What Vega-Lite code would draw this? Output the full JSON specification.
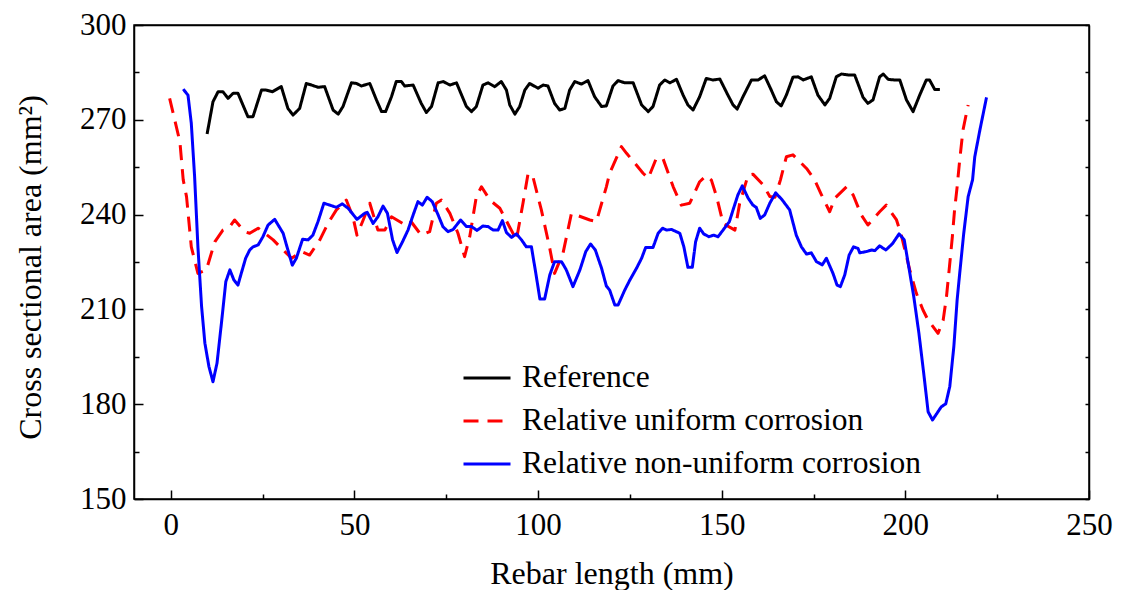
{
  "$schema": "https://vega.github.io/schema/vega-lite/v6.json",
  "width": 955,
  "height": 474,
  "autosize": {"type": "none"},
  "padding": {"left": 134, "top": 25, "right": 32, "bottom": 91},
  "config": {"view": {"stroke": "black", "strokeWidth": 1.5}, "font": "Liberation Serif"},
  "datasets": {
    "all": [
{"s":"A","x":9.9,"y":265.5},{"s":"A","x":11.5,"y":275.7},{"s":"A","x":12.9,"y":278.9},{"s":"A","x":14.2,"y":278.9},{"s":"A","x":15.6,"y":276.8},{"s":"A","x":17.0,"y":278.4},{"s":"A","x":18.3,"y":278.4},{"s":"A","x":21.0,"y":271},{"s":"A","x":22.4,"y":271},{"s":"A","x":24.7,"y":279.4},{"s":"A","x":26.0,"y":279.4},{"s":"A","x":27.7,"y":278.9},{"s":"A","x":30.1,"y":280.5},{"s":"A","x":31.9,"y":273.6},{"s":"A","x":33.3,"y":271.5},{"s":"A","x":35.1,"y":273.6},{"s":"A","x":36.9,"y":281.5},{"s":"A","x":38.3,"y":281},{"s":"A","x":40.1,"y":280.3},{"s":"A","x":41.9,"y":280.5},{"s":"A","x":44.2,"y":273.1},{"s":"A","x":45.6,"y":271.8},{"s":"A","x":46.9,"y":274.2},{"s":"A","x":49.2,"y":281.7},{"s":"A","x":50.6,"y":281.5},{"s":"A","x":51.9,"y":280.7},{"s":"A","x":54.2,"y":281.5},{"s":"A","x":56.0,"y":276.3},{"s":"A","x":57.4,"y":272.6},{"s":"A","x":58.5,"y":272.6},{"s":"A","x":60.1,"y":277.3},{"s":"A","x":61.4,"y":282.1},{"s":"A","x":62.8,"y":282.1},{"s":"A","x":63.7,"y":280.7},{"s":"A","x":66.0,"y":281},{"s":"A","x":68.2,"y":275.2},{"s":"A","x":69.6,"y":272.3},{"s":"A","x":71.0,"y":274.2},{"s":"A","x":72.8,"y":281.7},{"s":"A","x":74.2,"y":282.1},{"s":"A","x":76.0,"y":281},{"s":"A","x":77.8,"y":281.7},{"s":"A","x":80.5,"y":274.2},{"s":"A","x":81.9,"y":272.6},{"s":"A","x":83.2,"y":274.2},{"s":"A","x":85.0,"y":281},{"s":"A","x":86.4,"y":281.7},{"s":"A","x":88.2,"y":280.5},{"s":"A","x":90.0,"y":282.1},{"s":"A","x":91.4,"y":279.4},{"s":"A","x":92.3,"y":274.7},{"s":"A","x":93.7,"y":271.8},{"s":"A","x":95.0,"y":274.2},{"s":"A","x":96.4,"y":279.4},{"s":"A","x":97.7,"y":281.5},{"s":"A","x":100.0,"y":280},{"s":"A","x":101.4,"y":281},{"s":"A","x":102.7,"y":280.7},{"s":"A","x":104.5,"y":275.2},{"s":"A","x":105.9,"y":273.1},{"s":"A","x":107.3,"y":273.6},{"s":"A","x":108.6,"y":279.4},{"s":"A","x":110.0,"y":282.1},{"s":"A","x":111.8,"y":281.3},{"s":"A","x":113.6,"y":282.4},{"s":"A","x":115.4,"y":277.3},{"s":"A","x":117.3,"y":274.2},{"s":"A","x":118.6,"y":274.4},{"s":"A","x":120.4,"y":280.7},{"s":"A","x":121.8,"y":282.4},{"s":"A","x":123.6,"y":281.7},{"s":"A","x":125.9,"y":281.7},{"s":"A","x":128.2,"y":274.7},{"s":"A","x":130.0,"y":272.6},{"s":"A","x":131.3,"y":274.2},{"s":"A","x":133.1,"y":281},{"s":"A","x":134.5,"y":282.6},{"s":"A","x":135.9,"y":281.7},{"s":"A","x":137.7,"y":282.8},{"s":"A","x":139.5,"y":277.8},{"s":"A","x":140.8,"y":274.7},{"s":"A","x":142.2,"y":273.1},{"s":"A","x":144.0,"y":277.3},{"s":"A","x":145.8,"y":283.1},{"s":"A","x":147.6,"y":282.6},{"s":"A","x":149.5,"y":282.9},{"s":"A","x":151.7,"y":277.8},{"s":"A","x":153.1,"y":274.7},{"s":"A","x":154.2,"y":273.4},{"s":"A","x":155.8,"y":277.3},{"s":"A","x":158.1,"y":282.6},{"s":"A","x":159.9,"y":282.6},{"s":"A","x":161.7,"y":283.9},{"s":"A","x":163.5,"y":279.4},{"s":"A","x":164.9,"y":275.7},{"s":"A","x":166.2,"y":274.4},{"s":"A","x":167.6,"y":277.8},{"s":"A","x":169.4,"y":283.5},{"s":"A","x":170.8,"y":283.6},{"s":"A","x":172.2,"y":282.6},{"s":"A","x":174.4,"y":283.6},{"s":"A","x":176.2,"y":277.8},{"s":"A","x":178.1,"y":274.7},{"s":"A","x":179.4,"y":276.8},{"s":"A","x":181.2,"y":283.6},{"s":"A","x":182.6,"y":284.5},{"s":"A","x":184.4,"y":284.2},{"s":"A","x":186.2,"y":284.2},{"s":"A","x":188.5,"y":277.1},{"s":"A","x":189.8,"y":275.2},{"s":"A","x":191.2,"y":276.3},{"s":"A","x":193.0,"y":283.6},{"s":"A","x":194.0,"y":284.5},{"s":"A","x":195.3,"y":282.8},{"s":"A","x":197.1,"y":282.6},{"s":"A","x":198.5,"y":282.6},{"s":"A","x":200.3,"y":276.3},{"s":"A","x":202.1,"y":272.6},{"s":"A","x":203.9,"y":277.8},{"s":"A","x":205.7,"y":282.6},{"s":"A","x":206.6,"y":282.6},{"s":"A","x":208.0,"y":279.6},{"s":"A","x":209.4,"y":279.6},
{"s":"B","x":-0.3,"y":276.8},{"s":"B","x":2.5,"y":263},{"s":"B","x":3.4,"y":251},{"s":"B","x":4.3,"y":245.7},{"s":"B","x":5.6,"y":229.8},{"s":"B","x":7.4,"y":221.4},{"s":"B","x":9.7,"y":222.5},{"s":"B","x":12.0,"y":231.4},{"s":"B","x":14.2,"y":235.1},{"s":"B","x":16.1,"y":236.2},{"s":"B","x":17.4,"y":238.3},{"s":"B","x":20.1,"y":234.6},{"s":"B","x":21.5,"y":234.1},{"s":"B","x":23.8,"y":235.7},{"s":"B","x":27.9,"y":232},{"s":"B","x":30.6,"y":228.8},{"s":"B","x":32.9,"y":226.2},{"s":"B","x":35.6,"y":228.3},{"s":"B","x":37.8,"y":227.2},{"s":"B","x":40.6,"y":232},{"s":"B","x":42.8,"y":237.2},{"s":"B","x":45.1,"y":241.5},{"s":"B","x":47.8,"y":244.6},{"s":"B","x":49.6,"y":239.3},{"s":"B","x":50.7,"y":233.5},{"s":"B","x":52.4,"y":238.3},{"s":"B","x":54.2,"y":243.6},{"s":"B","x":56.4,"y":235.1},{"s":"B","x":58.3,"y":235.1},{"s":"B","x":60.1,"y":239.3},{"s":"B","x":63.2,"y":237.2},{"s":"B","x":65.1,"y":238.3},{"s":"B","x":68.2,"y":233.5},{"s":"B","x":70.5,"y":234.6},{"s":"B","x":72.3,"y":243.6},{"s":"B","x":73.7,"y":244.6},{"s":"B","x":76.0,"y":240.4},{"s":"B","x":78.2,"y":234.1},{"s":"B","x":80.0,"y":226.7},{"s":"B","x":81.4,"y":233},{"s":"B","x":83.2,"y":245.7},{"s":"B","x":84.6,"y":248.8},{"s":"B","x":86.9,"y":244.6},{"s":"B","x":89.6,"y":242},{"s":"B","x":94.1,"y":232},{"s":"B","x":95.9,"y":243.6},{"s":"B","x":97.3,"y":253.1},{"s":"B","x":98.6,"y":252},{"s":"B","x":100.9,"y":241.5},{"s":"B","x":103.2,"y":229.3},{"s":"B","x":104.5,"y":221.4},{"s":"B","x":106.8,"y":227.8},{"s":"B","x":109.1,"y":240.4},{"s":"B","x":114.1,"y":238.3},{"s":"B","x":115.9,"y":237.8},{"s":"B","x":118.6,"y":248.8},{"s":"B","x":119.5,"y":253.1},{"s":"B","x":122.7,"y":261.5},{"s":"B","x":124.1,"y":259.4},{"s":"B","x":128.6,"y":253.1},{"s":"B","x":130.0,"y":251.5},{"s":"B","x":132.2,"y":257.8},{"s":"B","x":134.0,"y":257.8},{"s":"B","x":136.8,"y":248.8},{"s":"B","x":139.0,"y":243},{"s":"B","x":141.3,"y":243.6},{"s":"B","x":144.0,"y":250.4},{"s":"B","x":145.8,"y":252.3},{"s":"B","x":147.2,"y":250.9},{"s":"B","x":148.6,"y":245.7},{"s":"B","x":150.4,"y":237.2},{"s":"B","x":153.6,"y":235.1},{"s":"B","x":154.9,"y":243.6},{"s":"B","x":157.2,"y":252.5},{"s":"B","x":158.5,"y":252.8},{"s":"B","x":161.3,"y":249.4},{"s":"B","x":163.1,"y":245.7},{"s":"B","x":164.5,"y":245.5},{"s":"B","x":166.0,"y":251},{"s":"B","x":167.6,"y":258.3},{"s":"B","x":169.4,"y":258.9},{"s":"B","x":173.1,"y":254.6},{"s":"B","x":175.3,"y":251},{"s":"B","x":177.2,"y":246.2},{"s":"B","x":179.4,"y":240.9},{"s":"B","x":180.8,"y":245.2},{"s":"B","x":184.0,"y":248.8},{"s":"B","x":185.8,"y":246.2},{"s":"B","x":188.0,"y":239.9},{"s":"B","x":189.8,"y":236.7},{"s":"B","x":193.0,"y":240.9},{"s":"B","x":194.8,"y":243},{"s":"B","x":197.6,"y":238.3},{"s":"B","x":198.9,"y":233.5},{"s":"B","x":201.2,"y":222.5},{"s":"B","x":203.0,"y":215.1},{"s":"B","x":204.8,"y":209.8},{"s":"B","x":206.2,"y":206.6},{"s":"B","x":208.9,"y":202.4},{"s":"B","x":210.3,"y":206.6},{"s":"B","x":211.2,"y":214},{"s":"B","x":212.1,"y":224.6},{"s":"B","x":212.8,"y":233},{"s":"B","x":213.4,"y":241.5},{"s":"B","x":214.1,"y":248.8},{"s":"B","x":214.8,"y":257.3},{"s":"B","x":215.7,"y":266.8},{"s":"B","x":217.1,"y":274.7},
{"s":"C","x":3.4,"y":279.7},{"s":"C","x":4.7,"y":277.8},{"s":"C","x":5.6,"y":268.9},{"s":"C","x":6.5,"y":252},{"s":"C","x":7.4,"y":229.8},{"s":"C","x":8.4,"y":210.9},{"s":"C","x":9.3,"y":199.3},{"s":"C","x":10.4,"y":191.9},{"s":"C","x":11.5,"y":187.1},{"s":"C","x":12.6,"y":193},{"s":"C","x":13.8,"y":205.6},{"s":"C","x":15.0,"y":218.8},{"s":"C","x":16.1,"y":222.5},{"s":"C","x":17.2,"y":219.3},{"s":"C","x":18.3,"y":217.7},{"s":"C","x":19.2,"y":221.4},{"s":"C","x":20.4,"y":226.2},{"s":"C","x":21.5,"y":228.8},{"s":"C","x":22.4,"y":229.8},{"s":"C","x":23.8,"y":230.4},{"s":"C","x":25.1,"y":233},{"s":"C","x":26.5,"y":236.7},{"s":"C","x":28.3,"y":238.5},{"s":"C","x":30.6,"y":234.1},{"s":"C","x":31.9,"y":228.8},{"s":"C","x":33.1,"y":224},{"s":"C","x":34.2,"y":226.2},{"s":"C","x":35.9,"y":232.2},{"s":"C","x":37.4,"y":232},{"s":"C","x":38.7,"y":233.5},{"s":"C","x":40.1,"y":237.8},{"s":"C","x":41.7,"y":243.6},{"s":"C","x":43.3,"y":243},{"s":"C","x":45.1,"y":242.3},{"s":"C","x":46.7,"y":243.4},{"s":"C","x":48.3,"y":242},{"s":"C","x":50.7,"y":238.5},{"s":"C","x":52.8,"y":240.4},{"s":"C","x":53.5,"y":240.7},{"s":"C","x":55.1,"y":237.2},{"s":"C","x":56.4,"y":239.3},{"s":"C","x":57.8,"y":242.7},{"s":"C","x":59.0,"y":240.4},{"s":"C","x":60.4,"y":232},{"s":"C","x":61.6,"y":228},{"s":"C","x":63.1,"y":231.4},{"s":"C","x":64.6,"y":235.1},{"s":"C","x":66.0,"y":239.9},{"s":"C","x":67.3,"y":244.1},{"s":"C","x":68.5,"y":243},{"s":"C","x":69.8,"y":245.5},{"s":"C","x":71.2,"y":244.1},{"s":"C","x":72.8,"y":239.9},{"s":"C","x":74.1,"y":236.2},{"s":"C","x":75.5,"y":234.6},{"s":"C","x":76.9,"y":235.3},{"s":"C","x":78.9,"y":238.3},{"s":"C","x":80.5,"y":236.2},{"s":"C","x":81.9,"y":236.2},{"s":"C","x":83.4,"y":235},{"s":"C","x":85.0,"y":236.4},{"s":"C","x":86.4,"y":236.2},{"s":"C","x":87.8,"y":235.1},{"s":"C","x":89.1,"y":235.1},{"s":"C","x":90.3,"y":238.1},{"s":"C","x":91.4,"y":234.3},{"s":"C","x":92.8,"y":232.8},{"s":"C","x":94.1,"y":233.9},{"s":"C","x":95.5,"y":232},{"s":"C","x":96.8,"y":229.8},{"s":"C","x":98.2,"y":229.8},{"s":"C","x":99.4,"y":221.4},{"s":"C","x":100.5,"y":213.3},{"s":"C","x":101.8,"y":213.3},{"s":"C","x":103.2,"y":220.9},{"s":"C","x":104.5,"y":225.1},{"s":"C","x":106.4,"y":225.1},{"s":"C","x":107.7,"y":222.5},{"s":"C","x":109.5,"y":217.2},{"s":"C","x":111.4,"y":222.5},{"s":"C","x":113.0,"y":228.3},{"s":"C","x":114.3,"y":230.7},{"s":"C","x":115.6,"y":228.8},{"s":"C","x":117.3,"y":223},{"s":"C","x":118.6,"y":217.4},{"s":"C","x":119.5,"y":216.1},{"s":"C","x":120.9,"y":211.4},{"s":"C","x":121.8,"y":211.4},{"s":"C","x":123.6,"y":216.1},{"s":"C","x":125.0,"y":219.3},{"s":"C","x":126.8,"y":223},{"s":"C","x":128.2,"y":226.2},{"s":"C","x":129.3,"y":229.6},{"s":"C","x":131.3,"y":229.6},{"s":"C","x":132.7,"y":234.1},{"s":"C","x":133.9,"y":235.7},{"s":"C","x":135.0,"y":235.1},{"s":"C","x":136.3,"y":235.3},{"s":"C","x":138.6,"y":234.1},{"s":"C","x":139.7,"y":229.8},{"s":"C","x":140.8,"y":223.3},{"s":"C","x":142.0,"y":223.3},{"s":"C","x":142.9,"y":231.4},{"s":"C","x":144.0,"y":235.7},{"s":"C","x":145.1,"y":233.9},{"s":"C","x":146.5,"y":233},{"s":"C","x":147.8,"y":233.5},{"s":"C","x":149.0,"y":233},{"s":"C","x":150.5,"y":235.3},{"s":"C","x":152.1,"y":237.8},{"s":"C","x":153.1,"y":241.5},{"s":"C","x":154.4,"y":246.2},{"s":"C","x":155.6,"y":249.1},{"s":"C","x":157.2,"y":245.2},{"s":"C","x":158.5,"y":243},{"s":"C","x":159.4,"y":242.3},{"s":"C","x":160.5,"y":238.8},{"s":"C","x":161.7,"y":239.9},{"s":"C","x":163.1,"y":243.6},{"s":"C","x":164.7,"y":246.9},{"s":"C","x":166.5,"y":244.6},{"s":"C","x":168.5,"y":241.5},{"s":"C","x":170.3,"y":233.5},{"s":"C","x":171.7,"y":229.8},{"s":"C","x":173.1,"y":227.5},{"s":"C","x":174.4,"y":227.9},{"s":"C","x":175.8,"y":225.1},{"s":"C","x":177.4,"y":224.1},{"s":"C","x":178.5,"y":226.2},{"s":"C","x":180.3,"y":221.4},{"s":"C","x":181.4,"y":217.7},{"s":"C","x":182.3,"y":217.2},{"s":"C","x":183.5,"y":220.9},{"s":"C","x":184.7,"y":227.2},{"s":"C","x":185.9,"y":229.8},{"s":"C","x":187.1,"y":229.3},{"s":"C","x":187.6,"y":227.9},{"s":"C","x":189.4,"y":228.3},{"s":"C","x":190.8,"y":228.8},{"s":"C","x":191.7,"y":228.6},{"s":"C","x":193.0,"y":230.1},{"s":"C","x":194.7,"y":228.8},{"s":"C","x":196.5,"y":230.8},{"s":"C","x":198.3,"y":233.9},{"s":"C","x":199.7,"y":232},{"s":"C","x":201.0,"y":223},{"s":"C","x":202.3,"y":214},{"s":"C","x":203.7,"y":202.4},{"s":"C","x":205.0,"y":189.8},{"s":"C","x":206.2,"y":177.6},{"s":"C","x":207.4,"y":175},{"s":"C","x":208.6,"y":177.1},{"s":"C","x":209.8,"y":179.2},{"s":"C","x":211.0,"y":180.1},{"s":"C","x":212.1,"y":185.6},{"s":"C","x":213.2,"y":198.2},{"s":"C","x":214.1,"y":213},{"s":"C","x":214.8,"y":221.4},{"s":"C","x":215.9,"y":234.1},{"s":"C","x":217.1,"y":245.7},{"s":"C","x":218.3,"y":251},{"s":"C","x":218.9,"y":258.3},{"s":"C","x":220.3,"y":266.8},{"s":"C","x":222.1,"y":277.1}
    ]
  },
  "layer": [
    {
      "data": {"name": "all"},
      "mark": {"type": "line", "strokeWidth": 3, "strokeJoin": "round"},
      "encoding": {
        "x": {"field": "x", "type": "quantitative", "scale": {"domain": [-10, 250], "nice": false, "zero": false},
          "axis": {"orient": "bottom", "values": [0,25,50,75,100,125,150,175,200,225,250],
            "labelExpr": "datum.value % 50 === 0 ? datum.label : ''",
            "tickSize": {"condition": {"test": "datum.value % 50 === 0", "value": -9}, "value": -5},
            "tickColor": "black", "tickWidth": 1.5, "domainColor": "black", "domainWidth": 1.5,
            "labelPadding": 20, "labelFont": "Liberation Serif", "labelFontSize": 31, "labelColor": "black",
            "labelFlush": false, "labelOverlap": false, "labelBaseline": "top",
            "grid": false, "title": "Rebar length (mm)", "titleFont": "Liberation Serif", "titleFontSize": 32,
            "titleFontWeight": "normal", "titleColor": "black", "titleY": 84, "titleBaseline": "alphabetic"}},
        "y": {"field": "y", "type": "quantitative", "scale": {"domain": [150, 300], "nice": false, "zero": false},
          "axis": {"orient": "left", "values": [150,165,180,195,210,225,240,255,270,285,300],
            "labelExpr": "datum.value % 30 === 0 ? datum.label : ''",
            "tickSize": {"condition": {"test": "datum.value % 30 === 0", "value": -9}, "value": -5},
            "tickColor": "black", "tickWidth": 1.5, "domainColor": "black", "domainWidth": 1.5,
            "labelPadding": 17, "labelFont": "Liberation Serif", "labelFontSize": 31, "labelColor": "black",
            "labelFlush": false, "labelOverlap": false,
            "grid": false, "title": "Cross sectional area (mm²)", "titleFont": "Liberation Serif", "titleFontSize": 32,
            "titleFontWeight": "normal", "titleColor": "black", "titleX": -94, "titleY": 242, "titleBaseline": "alphabetic", "titleAngle": -90}},
        "color": {"field": "s", "type": "nominal",
          "scale": {"domain": ["A", "B", "C"], "range": ["#000000", "#ff0000", "#0000ff"]},
          "legend": {"orient": "none", "legendX": 328, "legendY": 338, "title": null,
            "labelExpr": "datum.label === 'A' ? 'Reference' : datum.label === 'B' ? 'Relative uniform corrosion' : 'Relative non-uniform corrosion'",
            "symbolType": "stroke", "symbolSize": 2209, "symbolStrokeWidth": 3,
            "labelFont": "Liberation Serif", "labelFontSize": 31.5, "labelColor": "black", "labelOffset": 10, "labelLimit": 700,
            "rowPadding": 11, "clipHeight": 30, "padding": 0}},
        "strokeDash": {"field": "s", "type": "nominal",
          "scale": {"domain": ["A", "B", "C"], "range": [[1, 0], [15, 9], [1, 0]]}}
      }
    },
    {
      "data": {"values": []},
      "mark": {"type": "point", "opacity": 0},
      "encoding": {
        "x": {"field": "x", "type": "quantitative",
          "axis": {"orient": "top", "ticks": false, "labels": false, "title": null, "grid": false, "domainColor": "black", "domainWidth": 1.5}},
        "y": {"field": "y", "type": "quantitative",
          "axis": {"orient": "right", "values": [150,165,180,195,210,225,240,255,270,285,300], "tickSize": -4, "tickColor": "black", "tickWidth": 1.5, "labels": false, "title": null, "grid": false, "domainColor": "black", "domainWidth": 1.5}}
      }
    }
  ],
  "resolve": {"axis": {"x": "independent", "y": "independent"}}
}
